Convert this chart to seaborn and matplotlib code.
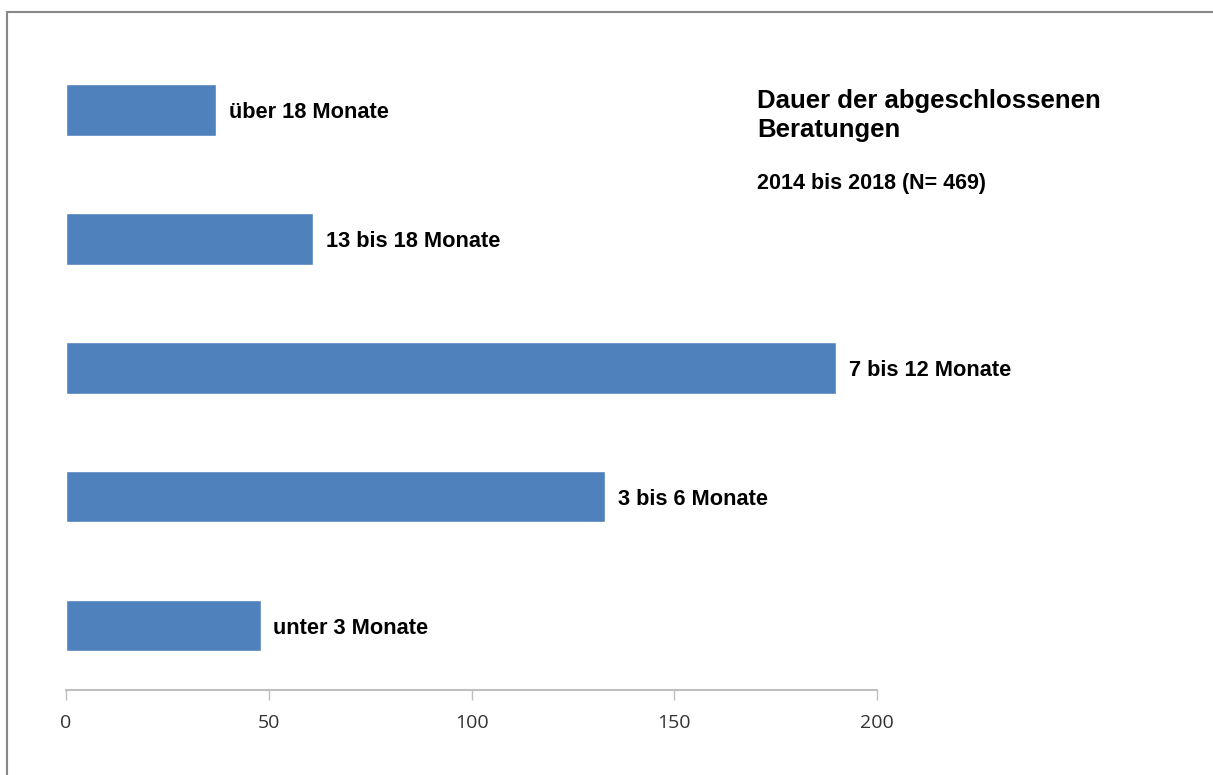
import pandas as pd
import matplotlib.pyplot as plt
import matplotlib.patches as mpatches
import seaborn as sns

# Daten
kategorien = ['über 18 Monate', '13 bis 18 Monate', '7 bis 12 Monate',
              '3 bis 6 Monate', 'unter 3 Monate']
anzahl = [37, 61, 190, 133, 48]
x_ticks = [0, 50, 100, 150, 200]

df = pd.DataFrame({'kategorie': kategorien, 'anzahl': anzahl})

sns.set_style('white')
plt.rcParams['font.family'] = ['Liberation Sans', 'DejaVu Sans']

W, H = 1213, 775
fig = plt.figure(figsize=(W / 100, H / 100), dpi=100)
ax = fig.add_axes([66 / W, (H - 690) / H, (877 - 66) / W, (690 - 45.5) / H])

sns.barplot(data=df, x='anzahl', y='kategorie', order=kategorien,
            orient='h', color='#4F81BD', saturation=1, width=0.4, ax=ax)

# Beschriftungen an den Balken
for i, (kat, wert) in enumerate(zip(kategorien, anzahl)):
    ax.annotate(kat, xy=(wert, i), xytext=(9, -2), textcoords='offset points',
                ha='left', va='center', fontsize=15.7, fontweight='bold', color='black')

ax.set_xlim(0, 200)
ax.set_ylim(4.5, -0.5)
ax.set_xticks(x_ticks)
ax.set_xticklabels([str(t) for t in x_ticks], family=['Open Sans', 'DejaVu Sans'],
                   fontsize=14, color='#333333')
ax.tick_params(axis='x', bottom=True, direction='out', length=7, width=1,
               color='#BFBFBF', pad=10)
ax.set_yticks([])
ax.set_xlabel('')
ax.set_ylabel('')
for s in ['top', 'right', 'left']:
    ax.spines[s].set_visible(False)
ax.spines['bottom'].set_color('#BFBFBF')
ax.spines['bottom'].set_linewidth(1.5)

# Titel
fig.text(757 / W, 1 - 108 / H, 'Dauer der abgeschlossenen',
         ha='left', va='baseline', fontsize=18.5, fontweight='bold', color='black')
fig.text(757 / W, 1 - 137 / H, 'Beratungen',
         ha='left', va='baseline', fontsize=18.5, fontweight='bold', color='black')
fig.text(757 / W, 1 - 189 / H, '2014 bis 2018 (N= 469)',
         ha='left', va='baseline', fontsize=15.5, fontweight='bold', color='black')

# Rahmen
rahmen = mpatches.Rectangle((7 / W, -0.1), 1.2, 1 - 12 / H + 0.1,
                            transform=fig.transFigure, fill=False,
                            edgecolor='#888888', linewidth=1.5, clip_on=False)
fig.patches.append(rahmen)

fig.savefig('out.png', dpi=100)
